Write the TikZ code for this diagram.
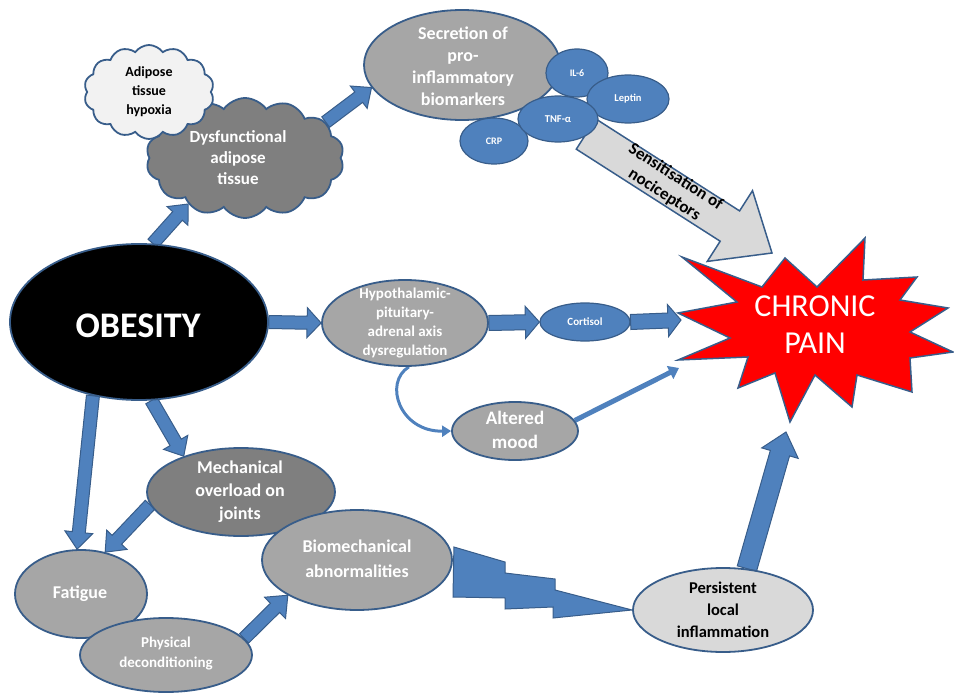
\documentclass[tikz,border=0pt]{standalone}
\usepackage{fontspec}
\setmainfont{Carlito}
\usetikzlibrary{shapes.geometric,shapes.symbols,calc,arrows.meta}
\pgfdeclarelayer{bg}
\pgfsetlayers{bg,main}
\definecolor{bfill}{HTML}{4F81BD}
\definecolor{bord}{HTML}{385D8A}
\definecolor{midgray}{HTML}{A6A6A6}
\definecolor{darkgraytwo}{HTML}{7F7F7F}
\definecolor{lightgraytwo}{HTML}{D9D9D9}
\definecolor{palegray}{HTML}{F2F2F2}
\tikzset{
  fsz/.style 2 args={font=\fontsize{#1}{#2}\selectfont\bfseries},
  ell/.style={ellipse, draw=bord, line width=1.8pt, inner sep=0pt},
  grayell/.style={ell, fill=midgray},
  darkell/.style={ell, fill=darkgraytwo},
  blueell/.style={ell, fill=bfill, line width=1.2pt},
  cloudbox/.style={cloud, cloud puffs=14, cloud puff arc=110, draw=bord, line width=1.8pt, inner sep=0pt},
  wtxt/.style={text=white, align=center, inner sep=0pt},
  ktxt/.style={text=black, align=center, inner sep=0pt},
  barrow/.style={fill=bfill, draw=bord, line width=1pt, line join=miter},
  thinarr/.style={draw=bfill, line width=3pt, -{Triangle[length=9pt,width=11pt]}},
}
\newcommand\blockarr[6][barrow]{%
  \coordinate (bahead) at ($(#3)!#6!(#2)$);
  \filldraw[#1] ($(#2)!#4!90:(#3)$) -- ($(bahead)!#4!90:(#3)$) -- ($(bahead)!#5!90:(#3)$) -- (#3)
    -- ($(bahead)!#5!-90:(#3)$) -- ($(bahead)!#4!-90:(#3)$) -- ($(#2)!#4!-90:(#3)$) -- cycle;}
\begin{document}
\begin{tikzpicture}[x=1pt,y=-1pt]
\useasboundingbox (0,0) rectangle (954,693);

% star
\filldraw[fill=red, draw=bord, line width=1.5pt, line join=miter]
  (682,257) -- (762,287) -- (785,258) -- (817,287) -- (865,238) -- (863,280)
  -- (917,277) -- (900,300) -- (948,308) -- (910,332) -- (953,352) -- (910,358)
  -- (912,392) -- (857,375) -- (852,407) -- (815,375) -- (790,422) -- (775,373)
  -- (738,388) -- (748,357) -- (678,360) -- (730,338) -- (678,313) -- (737,302) -- cycle;
\node[text=white, align=center, inner sep=0pt, font=\fontsize{32}{37}\selectfont] (pain) at (815,325) {CHRONIC\\PAIN};
\coordinate (pain-w) at (681,320);
\coordinate (pain-sw) at (679,368);
\coordinate (pain-s) at (786,432);
\coordinate (pain-nw) at (772,253);
\coordinate (sens0) at (586,134);

% nodes
\node[ell, fill=black, minimum width=258pt, minimum height=156pt] (obesity) at (139,322) {};
\node[wtxt, font=\fontsize{36}{40}\selectfont\bfseries] (obesity-t) at (138,326) {OBESITY};

\node[cloudbox, fill=darkgraytwo, minimum width=198pt, minimum height=120pt] (dys) at (245,158) {};
\node[wtxt, fsz={17}{21}] (dys-t) at (238,158) {Dysfunctional\\adipose\\tissue};
\node[cloudbox, fill=palegray, minimum width=130pt, minimum height=94pt] (hyp) at (149,92) {};
\node[ktxt, fsz={14}{19}] (hyp-t) at (149,92) {Adipose\\tissue\\hypoxia};

\node[grayell, minimum width=196pt, minimum height=110pt] (sec) at (462,65) {};
\node[wtxt, fsz={18}{22}] (sec-t) at (463,66) {Secretion of\\pro-\\inflammatory\\biomarkers};

\node[grayell, minimum width=166pt, minimum height=86pt] (hpa) at (405,323) {};
\node[wtxt, fsz={15}{19}] (hpa-t) at (405,323) {Hypothalamic-\\pituitary-\\adrenal axis\\dysregulation};

\node[blueell, minimum width=90pt, minimum height=38pt] (cort) at (585,322) {};
\node[wtxt, fsz={11}{13}] (cort-t) at (585,322) {Cortisol};

\node[grayell, minimum width=126pt, minimum height=58pt] (mood) at (515,431) {};
\node[wtxt, fsz={19}{24}] (mood-t) at (515,430) {Altered\\mood};

\node[grayell, minimum width=132pt, minimum height=88pt] (fatigue) at (81,594) {};
\node[wtxt, fsz={18}{22}] (fatigue-t) at (80,594) {Fatigue};
\node[grayell, minimum width=172pt, minimum height=74pt] (phys) at (166,655) {};
\node[wtxt, fsz={15}{20}] (phys-t) at (166,654) {Physical\\deconditioning};

\node[darkell, minimum width=188pt, minimum height=88pt] (mech) at (241,492) {};
\node[wtxt, fsz={18}{23}] (mech-t) at (240,492) {Mechanical\\overload on\\joints};
\node[grayell, minimum width=190pt, minimum height=100pt] (bio) at (357,560) {};
\node[wtxt, fsz={18}{25}] (bio-t) at (357,559) {Biomechanical\\abnormalities};

\node[ell, fill=lightgraytwo, minimum width=180pt, minimum height=84pt] (persist) at (723,610) {};
\node[ktxt, fsz={16.5}{22}] (persist-t) at (723,610) {Persistent\\local\\inflammation};

\node[blueell, minimum width=62pt, minimum height=48pt] (il6) at (577,73) {};
\node[wtxt, fsz={10}{12}] (il6-t) at (577,73) {IL-6};
\node[blueell, minimum width=82pt, minimum height=48pt] (leptin) at (628,99) {};
\node[wtxt, fsz={10.5}{12}] (leptin-t) at (628,99) {Leptin};
\node[blueell, minimum width=68pt, minimum height=46pt] (crp) at (494,141) {};
\node[wtxt, fsz={10}{12}] (crp-t) at (494,141) {CRP};
\node[blueell, minimum width=80pt, minimum height=46pt] (tnf) at (558,119) {};
\node[wtxt, fsz={10.5}{12}] (tnf-t) at (558,119) {TNF-α};

% connectors
\begin{pgfonlayer}{bg}
  \blockarr[fill=lightgraytwo, draw=bord, line width=1.5pt, line join=miter]{sens0}{pain-nw}{18pt}{42pt}{50pt}
  \blockarr{obesity.80}{dys.219}{6.5pt}{14pt}{16pt}
  \blockarr{dys.24}{sec.194}{6.5pt}{14pt}{16pt}
  \blockarr{obesity.east}{hpa.west}{6.5pt}{15pt}{14pt}
  \blockarr{hpa.east}{cort.west}{7.5pt}{16pt}{14pt}
  \blockarr{cort.east}{pain-w}{7.5pt}{16pt}{13pt}
  \blockarr{obesity.-81}{mech.148}{6.5pt}{14pt}{16pt}
  \blockarr{obesity.-122}{fatigue.95}{6.5pt}{14pt}{17pt}
  \blockarr{mech.188}{fatigue.60}{6.5pt}{14pt}{17pt}
  \blockarr{phys.12}{bio.207}{6.5pt}{15pt}{18pt}
  \blockarr{persist.60}{pain-s}{10pt}{19pt}{22pt}
  \draw[thinarr] (hpa.275) .. controls (383,383) and (400,432) .. (mood.west);
  \draw[draw=bfill, line width=5pt, -{Triangle[length=10pt,width=14pt]}] (mood.10) -- (pain-sw);
  \filldraw[barrow] (bio.east) ++(1,-13) -- (505,562) -- (505,573) -- (555,579) -- (555,590)
    -- (persist.west) -- (553,618) -- (553,607) -- (505,609) -- (505,598) -- (453,597) -- cycle;
\end{pgfonlayer}
\node[rotate=-32.6, ktxt, fsz={17}{21}] (sens-t) at (670,186) {Sensitisation of\\nociceptors};
\end{tikzpicture}
\end{document}
